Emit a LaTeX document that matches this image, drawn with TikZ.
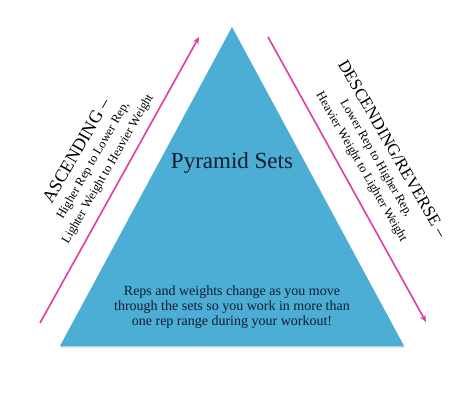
\documentclass[tikz,border=0pt]{standalone}
\usepackage{fontspec}
\setmainfont{Liberation Serif}
\definecolor{pyrblue}{RGB}{76, 173, 213}
\definecolor{pyrpink}{RGB}{222, 62, 160}
\definecolor{pyrnavy}{RGB}{18, 28, 48}
\usetikzlibrary{arrows.meta, positioning, shadows}

\begin{document}
\begin{tikzpicture}[
        x=1pt, y=1pt,
        pyramid/.style={
            fill=pyrblue,
            drop shadow={shadow xshift=0.6pt, shadow yshift=-1.6pt, opacity=0.35}
        },
        arr/.style={-{Stealth[length=7pt, width=6pt]}, line width=1.6pt, pyrpink},
        side/.style={align=center, text=black, inner sep=0pt,
            font=\fontsize{12.5}{17}\selectfont},
        title/.style={font=\fontsize{23}{26}\selectfont, text=pyrnavy},
        note/.style={font=\fontsize{14}{15}\selectfont, text=pyrnavy, align=center}
    ]
        \useasboundingbox (0,0) rectangle (476,407);
        % Pyramid
        \coordinate (top) at (232,380);
        \coordinate (bl) at (60,61);
        \coordinate (br) at (404,61);
        \fill[pyramid] (bl) -- (top) -- (br) -- cycle;
        \node[title] (name) at (232,244) {Pyramid Sets};
        \node[note] (info) at (232,100) {Reps and weights change as you move\\
            through the sets so you work in more than\\
            one rep range during your workout!};
        % Ascending arrow
        \coordinate (a1) at (40,84);
        \coordinate (a2) at (199,370);
        \draw[arr] (a1) -- (a2);
        \node[side, rotate=60] (asc) at (92,247) {%
            {\fontsize{18}{18}\selectfont ASCENDING --}\\
            Higher Rep to Lower Rep,\\
            Lighter Weight to Heavier Weight};
        % Descending arrow
        \coordinate (d1) at (268,370);
        \coordinate (d2) at (426,85);
        \draw[arr] (d1) -- (d2);
        \node[side, rotate=-60] (desc) at (377,249) {%
            {\fontsize{17}{18}\selectfont DESCENDING/REVERSE --}\\
            Lower Rep to Higher Rep,\\
            Heavier Weight to Lighter Weight};
    \end{tikzpicture}
\end{document}
